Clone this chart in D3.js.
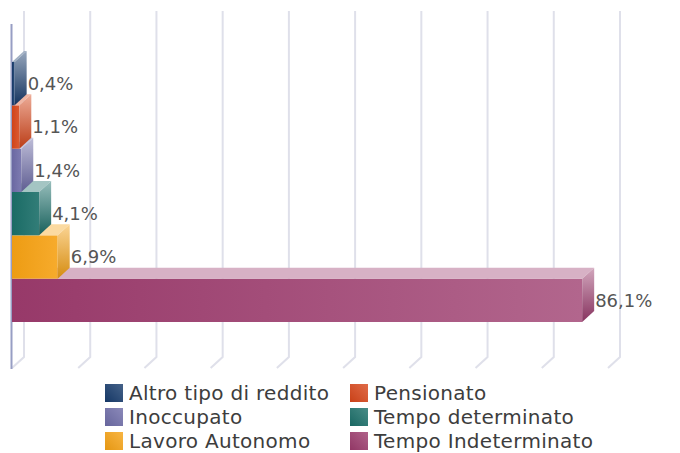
<!DOCTYPE html>
<html>
<head>
<meta charset="utf-8">
<script src="https://cdn.jsdelivr.net/npm/d3@7"></script>
<style>
  html, body { margin: 0; padding: 0; background: #fff; }
  svg { display: block; font-family: "DejaVu Sans", sans-serif; }
</style>
</head>
<body>
<svg id="chart"></svg>
<script>
// series, top to bottom
const series = ["Altro tipo di reddito", "Pensionato", "Inoccupato", "Tempo determinato", "Lavoro Autonomo", "Tempo Indeterminato"]
const values = [0.4, 1.1, 1.4, 4.1, 6.9, 86.1]
const labels = ["0,4%", "1,1%", "1,4%", "4,1%", "6,9%", "86,1%"]
const colors = ["#173b6c", "#d8461a", "#6e6ca8", "#1b6f69", "#f6a214", "#9c3b6d"]
const xTicks = [0, 10, 20, 30, 40, 50, 60, 70, 80, 90]

const width = 680, height = 453
const depth = { x: 12, y: 11 } // 3d offset of the back wall
const plot = { left: 12, right: 608, top: 24, bottom: 368 }

const svg = d3.select("#chart")
    .attr("width", width)
    .attr("height", height)
    .attr("viewBox", [0, 0, width, height])

const x = d3.scaleLinear()
    .domain([0, 90])
    .range([plot.left, plot.right])

const y = d3.scaleBand()
    .domain(series)
    .range([plot.top + 38, plot.bottom - 46])
    .paddingInner(0)

const color = d3.scaleOrdinal(series, colors)
const light = (c, t) => d3.interpolateRgb(c, "#fff")(t)

// gradients
const defs = svg.append("defs")
series.forEach((s, i) => {
  const c = color(s)
  const front = defs.append("linearGradient").attr("id", `front${i}`)
      .attr("x1", 0).attr("y1", 0).attr("x2", 1).attr("y2", 0)
  front.append("stop").attr("offset", 0).attr("stop-color", d3.color(c).darker(0.1))
  front.append("stop").attr("offset", 1).attr("stop-color", light(c, i === 5 ? 0.22 : 0.1))

  const side = defs.append("linearGradient").attr("id", `side${i}`)
      .attr("x1", 0).attr("y1", 0).attr("x2", 0).attr("y2", 1)
  side.append("stop").attr("offset", 0).attr("stop-color", light(c, 0.55))
  side.append("stop").attr("offset", 1).attr("stop-color", d3.color(c).darker(0.4))

  const sw = defs.append("linearGradient").attr("id", `sw${i}`)
      .attr("x1", 0).attr("y1", 1).attr("x2", 1).attr("y2", 0)
  sw.append("stop").attr("offset", 0).attr("stop-color", d3.color(c).darker(0.2))
  sw.append("stop").attr("offset", 1).attr("stop-color", light(c, 0.2))
})

// grid (back wall + floor diagonal)
const grid = svg.append("g")
    .attr("stroke", "#dfe0ea")
    .attr("stroke-width", 2)
    .attr("fill", "none")
grid.selectAll("path")
  .data(xTicks)
  .join("path")
    .attr("d", d => `M${x(d) + depth.x},${plot.top - depth.y - 2}V${plot.bottom - depth.y}L${x(d)},${plot.bottom}`)

// left axis
svg.append("line")
    .attr("x1", plot.left - 0.5).attr("x2", plot.left - 0.5)
    .attr("y1", plot.top).attr("y2", plot.bottom + 1)
    .attr("stroke", "#979ec4")
    .attr("stroke-width", 2)

// bars, drawn bottom up so upper bars sit in front of lower top faces
const data = series.map((s, i) => ({ s, i, v: values[i], label: labels[i] }))
const bars = svg.append("g")
  .selectAll("g")
  .data(data.slice().reverse())
  .join("g")

bars.each(function(d) {
  const g = d3.select(this)
  const x0 = x(0), x1 = x(d.v)
  const y0 = y(d.s), y1 = y(d.s) + y.bandwidth()
  const dx = depth.x, dy = depth.y
  g.append("rect")
      .attr("x", x0).attr("y", y0)
      .attr("width", x1 - x0).attr("height", y1 - y0)
      .attr("fill", `url(#front${d.i})`)
  g.append("path")
      .attr("d", `M${x0},${y0}L${x0 + dx},${y0 - dy}H${x1 + dx}L${x1},${y0}Z`)
      .attr("fill", light(color(d.s), 0.6))
  g.append("path")
      .attr("d", `M${x1},${y0}L${x1 + dx},${y0 - dy}V${y1 - dy}L${x1},${y1}Z`)
      .attr("fill", `url(#side${d.i})`)
})

// value labels
svg.append("g")
    .attr("font-size", 18)
    .attr("fill", "#555")
  .selectAll("text")
  .data(data)
  .join("text")
    .attr("x", d => x(d.v) + depth.x + 1)
    .attr("y", d => y(d.s) + y.bandwidth() / 2)
    .attr("dy", "0.35em")
    .text(d => d.label)

// legend, two columns
const legend = svg.append("g")
    .attr("font-size", 20)
    .attr("letter-spacing", 0.3)
    .attr("fill", "#3d3d3d")
  .selectAll("g")
  .data(data)
  .join("g")
    .attr("transform", d => `translate(${d.i % 2 ? 350 : 105},${384 + Math.floor(d.i / 2) * 24})`)

legend.append("rect")
    .attr("width", 18).attr("height", 18)
    .attr("fill", d => `url(#sw${d.i})`)

legend.append("text")
    .attr("x", 24)
    .attr("y", 9)
    .attr("dy", "0.35em")
    .text(d => d.s)
</script>
</body>
</html>
